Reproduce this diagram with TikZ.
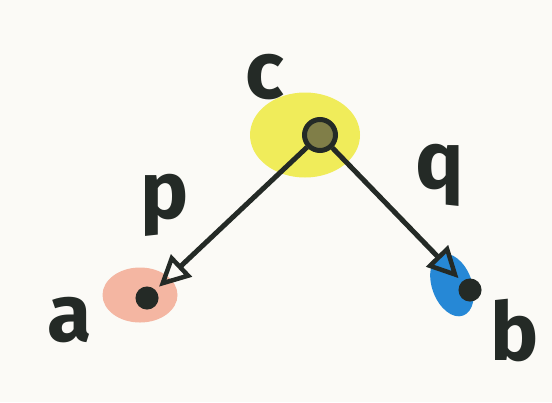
\documentclass[tikz,border=0pt]{standalone}
\usepackage{fontspec}
\setsansfont{Fira Sans}
\usetikzlibrary{shapes.geometric, positioning, arrows.meta}
\definecolor{Paper}{RGB}{251,250,246}
\definecolor{Ink}{RGB}{36,42,38}
\definecolor{Yel}{RGB}{240,236,90}
\definecolor{Pink}{RGB}{244,182,162}
\definecolor{Blu}{RGB}{38,136,214}
\definecolor{Olive}{RGB}{128,126,72}

\begin{document}
\begin{tikzpicture}[
          blob/.style={ellipse, inner sep=0pt},
          vert/.style={circle, draw=Ink, line width=0.1cm, fill=Ink,
                       minimum size=0.36cm, inner sep=0pt},
          lbl/.style={font=\sffamily\bfseries\fontsize{46}{46}\selectfont, text=Ink},
          arr/.style={-{Triangle[open, length=0.62cm, width=0.6cm, line width=0.09cm]},
                      line width=0.1cm, draw=Ink}
        ]
        \fill[Paper] (0,0) rectangle (11.04,8.04);
        \useasboundingbox (0,0) rectangle (11.04,8.04);

        % Blobs
        \node[blob, fill=Yel, minimum width=2.2cm, minimum height=1.7cm]
              (cblob) at (6.1, 5.34) {};
        \node[blob, fill=Pink, minimum width=1.5cm, minimum height=1.1cm]
              (ablob) at (2.8, 2.14) {};
        \node[blob, fill=Blu, minimum width=0.8cm, minimum height=1.3cm, rotate=20]
              (bblob) at (9.04, 2.34) {};

        % Vertices
        \node[vert, fill=Olive, minimum size=0.62cm] (c) at (6.4, 5.34) {};
        \node[vert] (a) at (2.94, 2.08) {};
        \node[vert] (b) at (9.4, 2.24) {};

        % Labels
        \node[lbl] (cl) at (5.3, 6.5) {c};
        \node[lbl] (al) at (1.4, 1.64) {a};
        \node[lbl] (bl) at (10.3, 1.44) {b};
        \node[lbl] (pl) at (3.3, 3.94) {p};
        \node[lbl] (ql) at (8.8, 4.54) {q};

        % Edges
        \draw[arr, shorten >=0.1cm] (c) -- (a);
        \draw[arr, shorten >=0.1cm] (c) -- (b);
      \end{tikzpicture}
\end{document}
